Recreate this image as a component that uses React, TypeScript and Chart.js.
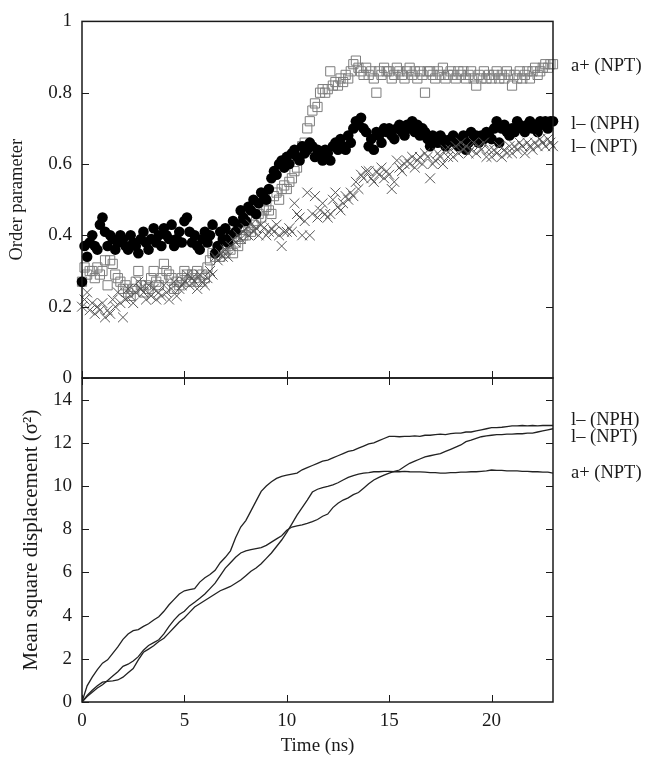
import React, { useEffect, useRef } from 'react';
import { Chart, registerables } from 'chart.js';

Chart.register(...registerables);

// ---------- data ----------
const TIME_ORDER = [
  0, 0.125, 0.25, 0.375, 0.5, 0.625, 0.75, 0.875,
  1, 1.125, 1.25, 1.375, 1.5, 1.625, 1.75, 1.875,
  2, 2.125, 2.25, 2.375, 2.5, 2.625, 2.75, 2.875,
  3, 3.125, 3.25, 3.375, 3.5, 3.625, 3.75, 3.875,
  4, 4.125, 4.25, 4.375, 4.5, 4.625, 4.75, 4.875,
  5, 5.125, 5.25, 5.375, 5.5, 5.625, 5.75, 5.875,
  6, 6.125, 6.25, 6.375, 6.5, 6.625, 6.75, 6.875,
  7, 7.125, 7.25, 7.375, 7.5, 7.625, 7.75, 7.875,
  8, 8.125, 8.25, 8.375, 8.5, 8.625, 8.75, 8.875,
  9, 9.125, 9.25, 9.375, 9.5, 9.625, 9.75, 9.875,
  10, 10.125, 10.25, 10.375, 10.5, 10.625, 10.75, 10.875,
  11, 11.125, 11.25, 11.375, 11.5, 11.625, 11.75, 11.875,
  12, 12.125, 12.25, 12.375, 12.5, 12.625, 12.75, 12.875,
  13, 13.125, 13.25, 13.375, 13.5, 13.625, 13.75, 13.875,
  14, 14.125, 14.25, 14.375, 14.5, 14.625, 14.75, 14.875,
  15, 15.125, 15.25, 15.375, 15.5, 15.625, 15.75, 15.875,
  16, 16.125, 16.25, 16.375, 16.5, 16.625, 16.75, 16.875,
  17, 17.125, 17.25, 17.375, 17.5, 17.625, 17.75, 17.875,
  18, 18.125, 18.25, 18.375, 18.5, 18.625, 18.75, 18.875,
  19, 19.125, 19.25, 19.375, 19.5, 19.625, 19.75, 19.875,
  20, 20.125, 20.25, 20.375, 20.5, 20.625, 20.75, 20.875,
  21, 21.125, 21.25, 21.375, 21.5, 21.625, 21.75, 21.875,
  22, 22.125, 22.25, 22.375, 22.5, 22.625, 22.75, 22.875,
  23,
];

// a+ (NPT) order parameter (open squares)
const ORDER_A_NPT = [
  0.27, 0.31, 0.29, 0.30, 0.30, 0.28, 0.31, 0.29,
  0.30, 0.33, 0.26, 0.33, 0.32, 0.29, 0.28, 0.27,
  0.25, 0.26, 0.24, 0.23, 0.25, 0.27, 0.30, 0.26,
  0.24, 0.26, 0.25, 0.28, 0.30, 0.27, 0.26, 0.28,
  0.32, 0.30, 0.29, 0.28, 0.25, 0.27, 0.26, 0.28,
  0.30, 0.29, 0.27, 0.29, 0.28, 0.30, 0.27, 0.29,
  0.28, 0.31, 0.33, 0.35, 0.34, 0.36, 0.34, 0.36,
  0.35, 0.37, 0.36, 0.35, 0.38, 0.37, 0.39, 0.40,
  0.40, 0.42, 0.41, 0.43, 0.44, 0.46, 0.45, 0.47,
  0.48, 0.47, 0.46, 0.51, 0.52, 0.50, 0.53, 0.54,
  0.53, 0.55, 0.56, 0.58, 0.59, 0.63, 0.65, 0.66,
  0.70, 0.72, 0.75, 0.77, 0.76, 0.80, 0.81, 0.80,
  0.81, 0.86, 0.82, 0.83, 0.82, 0.84, 0.83, 0.85,
  0.84, 0.86, 0.88, 0.89, 0.87, 0.86, 0.85, 0.87,
  0.85, 0.86, 0.84, 0.80, 0.86, 0.85, 0.87, 0.86,
  0.86, 0.84, 0.85, 0.87, 0.86, 0.85, 0.84, 0.86,
  0.87, 0.85, 0.86, 0.84, 0.86, 0.85, 0.80, 0.86,
  0.86, 0.85, 0.84, 0.86, 0.85, 0.87, 0.84, 0.85,
  0.86, 0.85, 0.84, 0.86, 0.85, 0.86, 0.84, 0.85,
  0.86, 0.84, 0.82, 0.85, 0.84, 0.86, 0.84, 0.85,
  0.84, 0.85, 0.86, 0.84, 0.85, 0.84, 0.86, 0.85,
  0.82, 0.85, 0.84, 0.86, 0.84, 0.85, 0.86, 0.84,
  0.86, 0.87, 0.85, 0.86, 0.87, 0.88, 0.87, 0.88,
  0.88,
];

// l- (NPH) order parameter (filled circles)
const ORDER_L_NPH = [
  0.27, 0.37, 0.34, 0.38, 0.40, 0.37, 0.36, 0.43,
  0.45, 0.41, 0.37, 0.40, 0.39, 0.36, 0.38, 0.40,
  0.39, 0.37, 0.36, 0.40, 0.38, 0.37, 0.35, 0.39,
  0.41, 0.38, 0.36, 0.39, 0.42, 0.38, 0.40, 0.37,
  0.42, 0.40, 0.39, 0.43, 0.37, 0.39, 0.41, 0.38,
  0.44, 0.45, 0.41, 0.38, 0.40, 0.37, 0.36, 0.39,
  0.41, 0.38, 0.40, 0.43, 0.35, 0.37, 0.41, 0.39,
  0.42, 0.38, 0.40, 0.44, 0.41, 0.43, 0.47, 0.45,
  0.44, 0.48, 0.47, 0.50, 0.46, 0.49, 0.52, 0.51,
  0.50, 0.53, 0.56, 0.58, 0.57, 0.60, 0.61, 0.59,
  0.62, 0.60, 0.63, 0.64, 0.62, 0.61, 0.65, 0.63,
  0.64, 0.66, 0.65, 0.62, 0.64, 0.63, 0.61, 0.64,
  0.63, 0.61, 0.65, 0.66, 0.64, 0.67, 0.65, 0.64,
  0.68, 0.66, 0.70, 0.72, 0.71, 0.73, 0.70, 0.69,
  0.65, 0.67, 0.64, 0.69, 0.68, 0.66, 0.70, 0.69,
  0.70, 0.68, 0.67, 0.70, 0.71, 0.69, 0.68, 0.71,
  0.70, 0.72, 0.69, 0.71, 0.68, 0.70, 0.69, 0.67,
  0.65, 0.68, 0.67, 0.66, 0.68, 0.67, 0.65, 0.66,
  0.67, 0.68, 0.66, 0.65, 0.67, 0.68, 0.64, 0.66,
  0.69, 0.67, 0.68, 0.66, 0.68, 0.67, 0.69, 0.68,
  0.67, 0.70, 0.72, 0.66, 0.70, 0.71, 0.69, 0.68,
  0.70, 0.69, 0.72, 0.71, 0.70, 0.69, 0.71, 0.72,
  0.70, 0.71, 0.69, 0.72, 0.71, 0.72, 0.70, 0.72,
  0.72,
];

// l- (NPT) order parameter (crosses)
const ORDER_L_NPT = [
  0.20, 0.22, 0.24, 0.19, 0.21, 0.18, 0.20, 0.19,
  0.21, 0.17, 0.19, 0.18, 0.22, 0.20, 0.24, 0.21,
  0.17, 0.22, 0.25, 0.23, 0.21, 0.24, 0.27, 0.25,
  0.24, 0.22, 0.26, 0.23, 0.25, 0.22, 0.24, 0.23,
  0.26, 0.24, 0.22, 0.25, 0.27, 0.23, 0.25, 0.26,
  0.27, 0.29, 0.26, 0.28, 0.27, 0.25, 0.29, 0.27,
  0.26, 0.28, 0.30, 0.29, 0.34, 0.33, 0.35, 0.34,
  0.36, 0.34, 0.37, 0.39, 0.38, 0.40, 0.39, 0.41,
  0.42, 0.40, 0.43, 0.41, 0.42, 0.40, 0.43, 0.42,
  0.40, 0.41, 0.42, 0.41, 0.43, 0.40, 0.37, 0.41,
  0.41, 0.42, 0.41, 0.49, 0.46, 0.45, 0.40, 0.44,
  0.52, 0.40, 0.46, 0.51, 0.45, 0.47, 0.49, 0.46,
  0.45, 0.46, 0.50, 0.52, 0.48, 0.47, 0.49, 0.51,
  0.50, 0.52, 0.51, 0.55, 0.53, 0.57, 0.56, 0.58,
  0.58, 0.56, 0.55, 0.58, 0.57, 0.59, 0.56, 0.58,
  0.57, 0.53, 0.55, 0.61, 0.59, 0.58, 0.60, 0.61,
  0.60, 0.62, 0.59, 0.61, 0.62, 0.60, 0.63, 0.62,
  0.56, 0.60, 0.61, 0.63, 0.62, 0.60, 0.64, 0.62,
  0.64, 0.62, 0.65, 0.63, 0.66, 0.64, 0.65, 0.63,
  0.64, 0.66, 0.63, 0.65, 0.64, 0.66, 0.62, 0.64,
  0.62, 0.64, 0.63, 0.65, 0.62, 0.64, 0.63, 0.65,
  0.63, 0.65, 0.64, 0.66, 0.65, 0.63, 0.66, 0.65,
  0.64, 0.66, 0.65, 0.67, 0.66, 0.65, 0.67, 0.66,
  0.65,
];

const TIME_MSD = [
  0, 0.25, 0.5, 0.75, 1, 1.25, 1.5, 1.75,
  2, 2.25, 2.5, 2.75, 3, 3.25, 3.5, 3.75,
  4, 4.25, 4.5, 4.75, 5, 5.25, 5.5, 5.75,
  6, 6.25, 6.5, 6.75, 7, 7.25, 7.5, 7.75,
  8, 8.25, 8.5, 8.75, 9, 9.25, 9.5, 9.75,
  10, 10.25, 10.5, 10.75, 11, 11.25, 11.5, 11.75,
  12, 12.25, 12.5, 12.75, 13, 13.25, 13.5, 13.75,
  14, 14.25, 14.5, 14.75, 15, 15.25, 15.5, 15.75,
  16, 16.25, 16.5, 16.75, 17, 17.25, 17.5, 17.75,
  18, 18.25, 18.5, 18.75, 19, 19.25, 19.5, 19.75,
  20, 20.25, 20.5, 20.75, 21, 21.25, 21.5, 21.75,
  22, 22.25, 22.5, 22.75, 23,
];

const MSD_L_NPH = [
  0, 0.75, 1.15, 1.5, 1.8, 1.95, 2.25, 2.55,
  2.9, 3.15, 3.3, 3.35, 3.5, 3.62, 3.8, 3.95,
  4.2, 4.5, 4.75, 5.0, 5.15, 5.2, 5.25, 5.55,
  5.75, 5.9, 6.1, 6.45, 6.7, 7.0, 7.6, 8.1,
  8.4, 8.85, 9.3, 9.75, 10.0, 10.2, 10.35, 10.45,
  10.5, 10.55, 10.6, 10.75, 10.85, 10.95, 11.05, 11.15,
  11.2, 11.3, 11.4, 11.5, 11.6, 11.65, 11.75, 11.85,
  11.95, 12.0, 12.1, 12.2, 12.3, 12.3, 12.28, 12.3,
  12.3, 12.32, 12.3, 12.35, 12.35, 12.38, 12.4, 12.38,
  12.42, 12.45, 12.45, 12.5, 12.5, 12.55, 12.6, 12.65,
  12.7, 12.7, 12.72, 12.75, 12.78, 12.78, 12.8, 12.78,
  12.8, 12.78, 12.8, 12.8, 12.8,
];

const MSD_L_NPT = [
  0, 0.25, 0.45, 0.65, 0.8, 1.0, 1.2, 1.4,
  1.65, 1.75, 1.9, 2.1, 2.4, 2.62, 2.75, 2.88,
  3.15, 3.5, 3.8, 4.05, 4.2, 4.45, 4.62, 4.8,
  5.0, 5.25, 5.5, 5.85, 6.2, 6.45, 6.7, 6.9,
  7.0, 7.05, 7.1, 7.15, 7.25, 7.4, 7.55, 7.7,
  7.95, 8.1, 8.15, 8.2, 8.27, 8.35, 8.45, 8.6,
  8.7, 9.0, 9.2, 9.35, 9.45, 9.6, 9.7, 9.9,
  10.1, 10.28, 10.4, 10.5, 10.6, 10.68, 10.74, 10.9,
  11.05, 11.15, 11.25, 11.35, 11.4, 11.45, 11.5, 11.6,
  11.7, 11.8, 11.9, 12.05, 12.12, 12.2, 12.28, 12.32,
  12.35, 12.38, 12.38, 12.4, 12.4, 12.42, 12.42, 12.45,
  12.45, 12.5, 12.55, 12.6, 12.65,
];

const MSD_A_NPT = [
  0, 0.3, 0.54, 0.75, 0.92, 0.95, 0.98, 1.02,
  1.15, 1.35, 1.55, 1.95, 2.3, 2.45, 2.6, 2.8,
  2.95, 3.2, 3.45, 3.7, 3.9, 4.15, 4.4, 4.55,
  4.7, 4.85, 5.0, 5.15, 5.25, 5.35, 5.5, 5.65,
  5.85, 6.05, 6.2, 6.4, 6.65, 6.9, 7.2, 7.5,
  7.85, 8.25, 8.65, 9.0, 9.35, 9.72, 9.85, 9.92,
  9.98, 10.05, 10.15, 10.28, 10.4, 10.48, 10.55, 10.6,
  10.62, 10.66, 10.66, 10.68, 10.68, 10.66, 10.66, 10.68,
  10.66, 10.65, 10.65, 10.64, 10.62, 10.62, 10.6, 10.6,
  10.62, 10.62, 10.64, 10.64, 10.66, 10.66, 10.68, 10.7,
  10.74, 10.72, 10.72, 10.7, 10.7, 10.7, 10.68, 10.68,
  10.66, 10.66, 10.64, 10.64, 10.6,
];

const X_TICKS = [0, 5, 10, 15, 20];
const ORDER_RIGHT_TICKS = [0.2, 0.4, 0.6, 0.8];
const MSD_RIGHT_TICKS = [2, 4, 6, 8, 10, 12, 14];

const ORDER_SERIES_NAMES = ['a+ (NPT)', 'l\u2013 (NPH)', 'l\u2013 (NPT)'];
const ORDER_NAME_Y = [0.874, 0.711, 0.646];
const MSD_SERIES_NAMES = ['l\u2013 (NPH)', 'l\u2013 (NPT)', 'a+ (NPT)'];
const MSD_NAME_Y = [13.06, 12.28, 10.59];

// ---------- style ----------
const FONT_FAMILY = "'Liberation Serif', 'Times New Roman', Times, serif";
const INK = '#1a1a1a';
const TICK_LEN = 7;

Chart.defaults.font.family = FONT_FAMILY;
Chart.defaults.font.size = 19;
Chart.defaults.color = INK;

function toPoints(xs: number[], ys: number[]) {
  return xs.map((x, i) => ({ x, y: ys[i] }));
}

function plainNumber(v: number | string) {
  return String(Number(Number(v).toFixed(2)));
}

function makeFramePlugin(cfg: {
  rightTicks: number[];
  topXTicks: boolean;
  bottomXTicks: boolean;
  names: string[];
  nameY: number[];
}) {
  return {
    id: 'frameTicksNames',
    afterDraw(chart: any) {
      const { ctx, chartArea } = chart;
      const { left, right, top, bottom } = chartArea;
      const xs = chart.scales.x;
      const ys = chart.scales.y;
      ctx.save();
      ctx.strokeStyle = INK;
      ctx.lineWidth = 1;
      ctx.beginPath();
      for (const t of ys.ticks) {
        const p = Math.round(ys.getPixelForValue(t.value)) + 0.5;
        ctx.moveTo(left, p);
        ctx.lineTo(left + TICK_LEN, p);
      }
      for (const v of cfg.rightTicks) {
        const p = Math.round(ys.getPixelForValue(v)) + 0.5;
        ctx.moveTo(right, p);
        ctx.lineTo(right - TICK_LEN, p);
      }
      for (const v of X_TICKS) {
        const p = Math.round(xs.getPixelForValue(v)) + 0.5;
        if (cfg.topXTicks) {
          ctx.moveTo(p, top);
          ctx.lineTo(p, top + TICK_LEN);
        }
        if (cfg.bottomXTicks) {
          ctx.moveTo(p, bottom);
          ctx.lineTo(p, bottom - TICK_LEN);
        }
      }
      ctx.stroke();
      ctx.lineWidth = 1.5;
      ctx.strokeRect(left, top, right - left, bottom - top);
      ctx.fillStyle = INK;
      ctx.font = `18.5px ${FONT_FAMILY}`;
      ctx.textAlign = 'left';
      ctx.textBaseline = 'middle';
      cfg.names.forEach((name, i) => {
        ctx.fillText(name, right + 18, ys.getPixelForValue(cfg.nameY[i]));
      });
      ctx.restore();
    },
  };
}

export default function App() {
  const topRef = useRef<HTMLCanvasElement>(null);
  const botRef = useRef<HTMLCanvasElement>(null);

  useEffect(() => {
    const top = new Chart(topRef.current as HTMLCanvasElement, {
      type: 'scatter',
      data: {
        datasets: [
          {
            label: ORDER_SERIES_NAMES[0],
            data: toPoints(TIME_ORDER, ORDER_A_NPT),
            pointStyle: 'rect',
            pointRadius: 6.5,
            pointBackgroundColor: 'rgba(0,0,0,0)',
            pointBorderColor: '#7d7d7d',
            pointBorderWidth: 1,
            order: 3,
            clip: false,
          } as any,
          {
            label: ORDER_SERIES_NAMES[1],
            data: toPoints(TIME_ORDER, ORDER_L_NPH),
            pointStyle: 'circle',
            pointRadius: 5.3,
            pointBackgroundColor: '#000',
            pointBorderColor: '#000',
            pointBorderWidth: 0,
            order: 2,
            clip: false,
          } as any,
          {
            label: ORDER_SERIES_NAMES[2],
            data: toPoints(TIME_ORDER, ORDER_L_NPT),
            pointStyle: 'crossRot',
            pointRadius: 7,
            pointBorderColor: '#555',
            pointBorderWidth: 1,
            order: 1,
            clip: false,
          } as any,
        ],
      },
      options: {
        responsive: false,
        animation: false,
        events: [],
        layout: { padding: { top: 20, right: 92, bottom: 32, left: 0 } },
        plugins: { legend: { display: false }, tooltip: { enabled: false } },
        scales: {
          x: { type: 'linear', display: false, min: 0, max: 23 },
          y: {
            type: 'linear',
            min: 0,
            max: 1,
            ticks: { stepSize: 0.2, padding: 10, color: INK, font: { size: 19 }, callback: plainNumber },
            grid: { display: false, drawTicks: false },
            border: { display: false },
            title: {
              display: true,
              text: 'Order parameter',
              color: INK,
              font: { size: 18.5 },
              padding: { top: 6, bottom: 0 },
            },
            afterFit: (s: any) => {
              s.width = 82;
            },
          },
        },
      } as any,
      plugins: [
        makeFramePlugin({
          rightTicks: ORDER_RIGHT_TICKS,
          topXTicks: false,
          bottomXTicks: true,
          names: ORDER_SERIES_NAMES,
          nameY: ORDER_NAME_Y,
        }),
      ],
    });

    const lineStyle = {
      showLine: true,
      pointRadius: 0,
      borderColor: '#222',
      borderWidth: 1.3,
      tension: 0,
    };

    const bot = new Chart(botRef.current as HTMLCanvasElement, {
      type: 'scatter',
      data: {
        datasets: [
          { label: MSD_SERIES_NAMES[0], data: toPoints(TIME_MSD, MSD_L_NPH), ...lineStyle } as any,
          { label: MSD_SERIES_NAMES[1], data: toPoints(TIME_MSD, MSD_L_NPT), ...lineStyle } as any,
          { label: MSD_SERIES_NAMES[2], data: toPoints(TIME_MSD, MSD_A_NPT), ...lineStyle } as any,
        ],
      },
      options: {
        responsive: false,
        animation: false,
        events: [],
        layout: { padding: { top: 48, right: 92, bottom: 0, left: 0 } },
        plugins: { legend: { display: false }, tooltip: { enabled: false } },
        scales: {
          x: {
            type: 'linear',
            min: 0,
            max: 23,
            ticks: { stepSize: 5, includeBounds: false, padding: 8, color: INK, font: { size: 19 }, callback: plainNumber },
            grid: { display: false, drawTicks: false },
            border: { display: false },
            title: {
              display: true,
              text: 'Time (ns)',
              color: INK,
              font: { size: 19 },
              padding: { top: 0, bottom: 1 },
            },
            afterFit: (s: any) => {
              s.height = 56;
            },
          },
          y: {
            type: 'linear',
            min: 0,
            max: 15,
            ticks: { stepSize: 2, includeBounds: false, padding: 10, color: INK, font: { size: 19 }, callback: plainNumber },
            grid: { display: false, drawTicks: false },
            border: { display: false },
            title: {
              display: true,
              text: 'Mean square displacement (\u03c3\u00b2)',
              color: INK,
              font: { size: 21 },
              padding: { top: 19, bottom: 0 },
            },
            afterFit: (s: any) => {
              s.width = 82;
            },
          },
        },
      } as any,
      plugins: [
        makeFramePlugin({
          rightTicks: MSD_RIGHT_TICKS,
          topXTicks: true,
          bottomXTicks: true,
          names: MSD_SERIES_NAMES,
          nameY: MSD_NAME_Y,
        }),
      ],
    });

    return () => {
      top.destroy();
      bot.destroy();
    };
  }, []);

  return (
    <div style={{ position: 'absolute', left: 0, top: 0, width: 645, height: 758, background: '#fff' }}>
      <canvas ref={topRef} width={645} height={410} style={{ position: 'absolute', left: 0, top: 0 }} />
      <canvas ref={botRef} width={645} height={428} style={{ position: 'absolute', left: 0, top: 330 }} />
    </div>
  );
}
